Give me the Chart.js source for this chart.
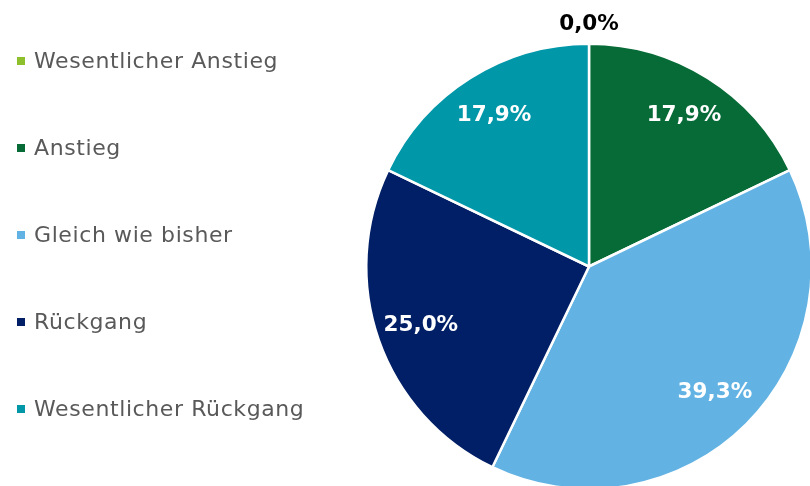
<!DOCTYPE html>
<html>
<head>
<meta charset="utf-8">
<script src="https://cdn.jsdelivr.net/npm/chart.js@4"></script>
<style>
    html, body { margin: 0; padding: 0; width: 810px; height: 486px; overflow: hidden; background: #fff; }
    #wrap { position: absolute; left: 0; top: 0; }
    #legend { position: absolute; left: 17px; top: 0; font-family: 'DejaVu Sans', Verdana, sans-serif; font-size: 22px; letter-spacing: 0.6px; color: #595959; }
    .item { position: absolute; left: 0; white-space: nowrap; line-height: 24px; }
    .box { display: inline-block; width: 8px; height: 8px; margin-right: 9px; vertical-align: 3px; }
</style>
</head>
<body>
<div id="wrap"><canvas id="pie" width="830" height="500"></canvas></div>
<div id="legend"></div>
<script>
const categories = ['Wesentlicher Anstieg', 'Anstieg', 'Gleich wie bisher', 'Rückgang', 'Wesentlicher Rückgang'];
const shares = [0.0, 17.9, 39.3, 25.0, 17.9];
const colors = ['#8dc02c', '#076b37', '#62b3e3', '#001f66', '#0097a9'];

// legend on the left, one row every 87px
const legend = document.getElementById('legend');
categories.forEach((name, i) => {
    const row = document.createElement('div');
    row.className = 'item';
    row.style.top = (49 + i * 87) + 'px';
    row.innerHTML = '<span class="box" style="background:' + colors[i] + '"></span>' + name;
    legend.appendChild(row);
});

// percentage labels inside the slices, the empty one sits outside in black
const sliceLabels = {
    id: 'sliceLabels',
    afterDatasetsDraw(chart) {
        const ctx = chart.ctx;
        const meta = chart.getDatasetMeta(0);
        ctx.save();
        ctx.font = 'bold 21.5px "DejaVu Sans", Verdana, sans-serif';
        ctx.textAlign = 'center';
        ctx.textBaseline = 'middle';
        meta.data.forEach((arc, i) => {
            const mid = (arc.startAngle + arc.endAngle) / 2;
            const text = shares[i].toFixed(1).replace('.', ',') + '%';
            let r = arc.outerRadius * 0.8;
            ctx.fillStyle = '#ffffff';
            if (shares[i] === 0) {
                r = arc.outerRadius + 19;
                ctx.fillStyle = '#000000';
            }
            ctx.fillText(text, arc.x + Math.cos(mid) * r, arc.y + Math.sin(mid) * r);
        });
        ctx.restore();
    }
};

new Chart(document.getElementById('pie'), {
    type: 'pie',
    data: {
        labels: categories,
        datasets: [{
            data: shares,
            backgroundColor: colors,
            borderColor: '#ffffff',
            borderWidth: 2.5
        }]
    },
    options: {
        responsive: false,
        animation: false,
        layout: { padding: { left: 365, top: 42, right: 17, bottom: 9 } },
        plugins: {
            legend: { display: false },
            tooltip: { enabled: false }
        }
    },
    plugins: [sliceLabels]
});
</script>
</body>
</html>
